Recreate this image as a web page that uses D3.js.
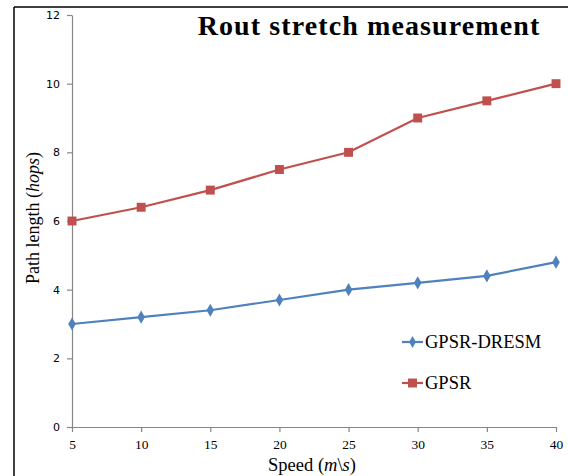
<!DOCTYPE html>
<html><head><meta charset="utf-8">
<script src="https://cdn.jsdelivr.net/npm/d3@7"></script>
<style>body{margin:0;background:#fff}svg{display:block}</style>
</head><body>
<script>
const speeds = [5, 10, 15, 20, 25, 30, 35, 40];
const gpsrDresm = [3, 3.2, 3.4, 3.7, 4, 4.2, 4.4, 4.8];
const gpsr = [6, 6.4, 6.9, 7.5, 8, 9, 9.5, 10];
const yTicks = [0, 2, 4, 6, 8, 10, 12];
const seriesNames = ["GPSR-DRESM", "GPSR"];

const W = 568, H = 476;
const svg = d3.select("body").append("svg").attr("width", W).attr("height", H);

// outer frame
svg.append("line").attr("x1", 14).attr("x2", 14).attr("y1", 7).attr("y2", H).attr("stroke", "#000").attr("stroke-width", 1.5);
svg.append("line").attr("x1", 14).attr("x2", W).attr("y1", 7).attr("y2", 7).attr("stroke", "#000").attr("stroke-width", 1.5);

const x = d3.scaleLinear().domain([5, 40]).range([72, 556]);
const y = d3.scaleLinear().domain([0, 12]).range([427, 15]);
const axisColor = "#868686";

const xAxis = svg.append("g").attr("transform", "translate(0,427)")
  .call(d3.axisBottom(x).tickValues(speeds).tickSize(5).tickSizeOuter(0).tickPadding(7));
xAxis.selectAll("path,line").attr("stroke", axisColor).attr("stroke-width", 1.2);
xAxis.selectAll("text").attr("font-family", "Liberation Serif, serif").attr("font-size", 13.5).attr("fill", "#000");

const yAxis = svg.append("g").attr("transform", "translate(72,0)")
  .call(d3.axisLeft(y).tickValues(yTicks).tickSize(5).tickSizeOuter(0).tickPadding(7));
yAxis.selectAll("path,line").attr("stroke", axisColor).attr("stroke-width", 1.2);
yAxis.selectAll("text").attr("font-family", "DejaVu Sans, sans-serif").attr("font-size", 11).attr("fill", "#000");

const colors = ["#4F81BD", "#C0504D"];
const data = [gpsrDresm, gpsr];
const line = d3.line().x((d, i) => x(speeds[i])).y(d => y(d));

data.forEach((vals, k) => {
  svg.append("path").datum(vals).attr("d", line).attr("fill", "none")
    .attr("stroke", colors[k]).attr("stroke-width", 2.2);
  const sym = k === 0 ? d3.symbolDiamond : d3.symbolSquare;
  const size = k === 0 ? 50 : 80;
  svg.selectAll(null).data(vals).enter().append("path")
    .attr("d", d3.symbol().type(sym).size(size))
    .attr("transform", (d, i) => `translate(${x(speeds[i])},${y(d)})`)
    .attr("fill", colors[k]);
});

// legend
const legY = [342, 383];
seriesNames.forEach((name, k) => {
  svg.append("line").attr("x1", 402).attr("x2", 423).attr("y1", legY[k]).attr("y2", legY[k])
    .attr("stroke", colors[k]).attr("stroke-width", 2.2);
  svg.append("path").attr("d", d3.symbol().type(k === 0 ? d3.symbolDiamond : d3.symbolSquare).size(k === 0 ? 40 : 80))
    .attr("transform", `translate(412.5,${legY[k]})`).attr("fill", colors[k]);
  svg.append("text").attr("x", 425).attr("y", legY[k] + 6).text(name)
    .attr("font-family", "Liberation Serif, serif").attr("font-size", 18.5).attr("fill", "#000");
});

// title
svg.append("text").attr("x", 369).attr("y", 35).attr("text-anchor", "middle")
  .attr("font-family", "Liberation Serif, serif").attr("font-weight", "bold").attr("font-size", 28)
  .attr("letter-spacing", 1.1)
  .text("Rout stretch measurement");

// axis titles
const xt = svg.append("text").attr("x", 312).attr("y", 471).attr("text-anchor", "middle")
  .attr("font-family", "Liberation Serif, serif").attr("font-size", 18.5);
xt.append("tspan").text("Speed (");
xt.append("tspan").attr("font-style", "italic").text("m");
xt.append("tspan").text("\\");
xt.append("tspan").attr("font-style", "italic").text("s");
xt.append("tspan").text(")");

const yt = svg.append("text").attr("transform", "translate(39,218) rotate(-90)").attr("text-anchor", "middle")
  .attr("font-family", "Liberation Serif, serif").attr("font-size", 18);
yt.append("tspan").text("Path length (");
yt.append("tspan").attr("font-style", "italic").text("hops");
yt.append("tspan").text(")");
</script>
</body></html>
